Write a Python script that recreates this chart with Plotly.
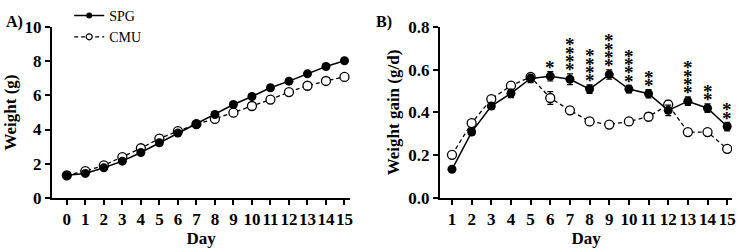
import plotly.graph_objects as go

days_a = list(range(0, 16))
spg_weight = [1.31, 1.42, 1.75, 2.14, 2.65, 3.22, 3.79, 4.32, 4.88, 5.47, 5.94, 6.45, 6.84, 7.27, 7.70, 8.04]
cmu_weight = [1.31, 1.56, 1.89, 2.38, 2.90, 3.47, 3.90, 4.32, 4.62, 4.99, 5.38, 5.76, 6.20, 6.57, 6.85, 7.09]

days_b = list(range(1, 16))
spg_gain = [0.133, 0.308, 0.430, 0.490, 0.560, 0.570, 0.556, 0.510, 0.578, 0.510, 0.488, 0.410, 0.453, 0.420, 0.334]
spg_err = [0.01, 0.012, 0.015, 0.02, 0.02, 0.022, 0.025, 0.02, 0.022, 0.018, 0.02, 0.025, 0.02, 0.02, 0.02]
cmu_gain = [0.201, 0.350, 0.463, 0.526, 0.567, 0.468, 0.410, 0.358, 0.343, 0.358, 0.380, 0.437, 0.308, 0.308, 0.229]
cmu_err = [0.01, 0.012, 0.012, 0.015, 0.015, 0.03, 0.018, 0.015, 0.015, 0.015, 0.018, 0.02, 0.015, 0.015, 0.015]
stars = [0, 0, 0, 0, 0, 1, 4, 4, 4, 4, 2, 0, 4, 2, 2]

FONT = "Liberation Serif"
BLK = "#000000"
DASH = "4px,3px"

fig = go.Figure()

# legend-only entries (small symbols as in the reference legend)
fig.add_trace(go.Scatter(x=[None], y=[None], name="SPG", mode="lines+markers",
                         line=dict(color=BLK, width=1.5),
                         marker=dict(symbol="circle", size=6, color=BLK),
                         xaxis="x", yaxis="y"))
fig.add_trace(go.Scatter(x=[None], y=[None], name="CMU", mode="lines+markers",
                         line=dict(color=BLK, width=1.2, dash=DASH),
                         marker=dict(symbol="circle", size=6, color="white",
                                     line=dict(color=BLK, width=1.2)),
                         xaxis="x", yaxis="y"))

fig.add_trace(go.Scatter(x=days_a, y=cmu_weight, name="CMU", mode="lines+markers",
                         showlegend=False,
                         line=dict(color=BLK, width=1.3, dash=DASH),
                         marker=dict(symbol="circle", size=9, color="white",
                                     line=dict(color=BLK, width=1.3)),
                         xaxis="x", yaxis="y"))
fig.add_trace(go.Scatter(x=days_a, y=spg_weight, name="SPG", mode="lines+markers",
                         showlegend=False,
                         line=dict(color=BLK, width=1.5),
                         marker=dict(symbol="circle", size=9, color=BLK),
                         xaxis="x", yaxis="y"))

fig.add_trace(go.Scatter(x=days_b, y=cmu_gain, name="CMU", mode="lines+markers",
                         showlegend=False,
                         line=dict(color=BLK, width=1.3, dash=DASH),
                         error_y=dict(type="data", array=cmu_err, color=BLK, thickness=1.2, width=3),
                         marker=dict(symbol="circle", size=9, color="white",
                                     line=dict(color=BLK, width=1.3)),
                         xaxis="x2", yaxis="y2"))
fig.add_trace(go.Scatter(x=days_b, y=spg_gain, name="SPG", mode="lines+markers",
                         showlegend=False,
                         line=dict(color=BLK, width=1.5),
                         error_y=dict(type="data", array=spg_err, color=BLK, thickness=1.2, width=3),
                         marker=dict(symbol="circle", size=9, color=BLK),
                         xaxis="x2", yaxis="y2"))

annotations = []
for d, v, e, n in zip(days_b, spg_gain, spg_err, stars):
    for k in range(n):
        annotations.append(dict(x=d, y=v + e, xref="x2", yref="y2", text="*",
                                showarrow=False, yanchor="middle", xanchor="center",
                                yshift=4 + 8.4 * k,
                                font=dict(family=FONT, size=19, color=BLK, weight="bold")))

annotations.append(dict(x=0.006, y=0.985, xref="paper", yref="paper", text="A)",
                        showarrow=False, xanchor="left", yanchor="top",
                        font=dict(family=FONT, size=16, color=BLK, weight="bold")))
annotations.append(dict(x=0.503, y=0.985, xref="paper", yref="paper", text="B)",
                        showarrow=False, xanchor="left", yanchor="top",
                        font=dict(family=FONT, size=16, color=BLK, weight="bold")))

tickfont = dict(family=FONT, size=17, color=BLK, weight="bold")
titlefont = dict(family=FONT, size=17, color=BLK, weight="bold")
axis_common = dict(showline=True, linecolor=BLK, linewidth=2, ticks="outside",
                   ticklen=5, tickwidth=2, tickcolor=BLK, showgrid=False, zeroline=False,
                   tickfont=tickfont, automargin=False, tickangle=0)

fig.update_layout(
    width=744, height=252,
    margin=dict(l=0, r=0, t=0, b=0),
    paper_bgcolor="white", plot_bgcolor="white",
    font=dict(family=FONT, color=BLK),
    showlegend=True,
    legend=dict(x=0.093, y=1.03, xanchor="left", yanchor="top",
                bgcolor="rgba(0,0,0,0)", font=dict(family=FONT, size=14, color=BLK),
                tracegroupgap=0, itemwidth=30),
    xaxis=dict(domain=[0.0699, 0.4705], range=[-0.8, 15.3], tickmode="array",
               tickvals=days_a, ticktext=[str(d) for d in days_a],
               title=dict(text="Day", font=titlefont, standoff=0), anchor="y", **axis_common),
    yaxis=dict(domain=[0.222, 0.917], range=[0, 10], tickvals=[0, 2, 4, 6, 8, 10],
               title=dict(text="Weight (g)", font=titlefont, standoff=4), anchor="x", **axis_common),
    xaxis2=dict(domain=[0.5914, 0.984], range=[0.39, 15.25], tickmode="array",
                tickvals=days_b, ticktext=[str(d) for d in days_b],
                title=dict(text="Day", font=titlefont, standoff=0), anchor="y2", **axis_common),
    yaxis2=dict(domain=[0.222, 0.917], range=[0, 0.8], tickvals=[0, 0.2, 0.4, 0.6, 0.8],
                tickformat=".1f",
                title=dict(text="Weight gain (g/d)", font=titlefont, standoff=4), anchor="x2",
                **axis_common),
    annotations=annotations,
)

fig.write_html("out.html", config={"displayModeBar": False},
               post_script="document.body.style.margin='0';")
